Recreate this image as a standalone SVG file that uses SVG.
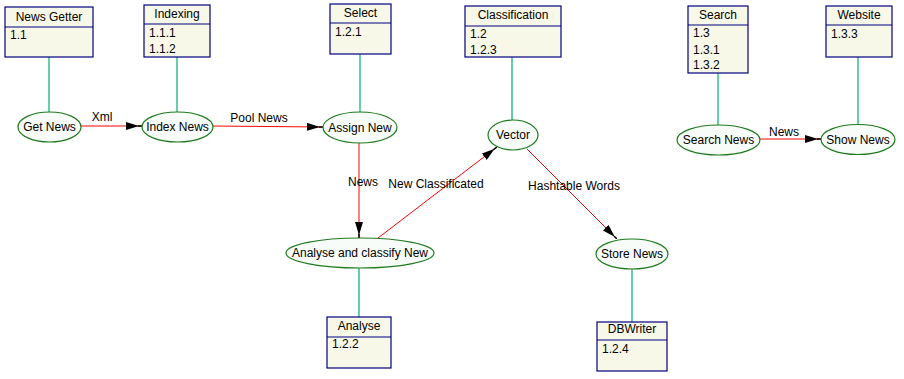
<svg xmlns="http://www.w3.org/2000/svg" width="904" height="379" viewBox="0 0 904 379">
<defs>
<style>
.box{fill:#f8f8e8;stroke:#000080;stroke-width:1.2}
.div{stroke:#000080;stroke-width:1.2}
.ell{fill:#f8fcf8;stroke:#1e7a1e;stroke-width:1.2}
.lnk{stroke:#00b070;stroke-width:1.2;fill:none}
.flow{stroke:#ff0000;stroke-width:1;fill:none}
text{font-family:"Liberation Sans",Arial,sans-serif;font-size:12px;fill:#000}
.c{text-anchor:middle}
</style>
<marker id="ah" viewBox="0 0 16 8" refX="16" refY="4" markerWidth="16" markerHeight="8" markerUnits="userSpaceOnUse" orient="auto">
<path d="M0,0 L13,4 L0,8 z" fill="#000"/>
<path d="M12,4 L16,4" stroke="#000" stroke-width="1.5"/>
</marker>
</defs>
<rect width="904" height="379" fill="#fff"/>
<g id="connectors">
<line class="lnk" x1="49" y1="57" x2="49" y2="112"/>
<line class="lnk" x1="177" y1="57" x2="177" y2="112"/>
<line class="lnk" x1="360" y1="54" x2="360" y2="112"/>
<line class="lnk" x1="512" y1="57" x2="512" y2="120"/>
<line class="lnk" x1="718" y1="73" x2="718" y2="125"/>
<line class="lnk" x1="858" y1="57" x2="858" y2="124"/>
<line class="lnk" x1="359" y1="268" x2="359" y2="317"/>
<line class="lnk" x1="632" y1="269" x2="632" y2="322"/>
<line class="flow" x1="81" y1="126" x2="142" y2="126" marker-end="url(#ah)"/>
<line class="flow" x1="213" y1="126" x2="323" y2="127" marker-end="url(#ah)"/>
<line class="flow" x1="359" y1="143" x2="359" y2="238" marker-end="url(#ah)"/>
<line class="flow" x1="378" y1="238" x2="497" y2="147" marker-end="url(#ah)"/>
<line class="flow" x1="527" y1="149" x2="617" y2="239" marker-end="url(#ah)"/>
<line class="flow" x1="760" y1="139" x2="821" y2="139" marker-end="url(#ah)"/>
<text class="c" x="102" y="121">Xml</text>
<text class="c" x="259" y="122">Pool News</text>
<text class="c" x="363" y="186">News</text>
<text class="c" x="436" y="188">New Classificated</text>
<text class="c" x="574" y="190">Hashtable Words</text>
<text class="c" x="784" y="136">News</text>
</g>
<g id="newsgetter"><rect class="box" x="5" y="7" width="88" height="50"/><line class="div" x1="5" y1="27" x2="93" y2="27"/><text class="c" x="49" y="21">News Getter</text><text x="10" y="39">1.1</text></g>
<g id="indexing"><rect class="box" x="144" y="5" width="66" height="52"/><line class="div" x1="144" y1="24" x2="210" y2="24"/><text class="c" x="177" y="18">Indexing</text><text x="149" y="37">1.1.1</text><text x="149" y="53">1.1.2</text></g>
<g id="select"><rect class="box" x="330" y="4" width="61" height="50"/><line class="div" x1="330" y1="23" x2="391" y2="23"/><text class="c" x="360.5" y="17">Select</text><text x="335" y="36">1.2.1</text></g>
<g id="classification"><rect class="box" x="465" y="6" width="96" height="51"/><line class="div" x1="465" y1="26" x2="561" y2="26"/><text class="c" x="513" y="19">Classification</text><text x="470" y="38">1.2</text><text x="470" y="54">1.2.3</text></g>
<g id="search"><rect class="box" x="688" y="6" width="60" height="67"/><line class="div" x1="688" y1="25" x2="748" y2="25"/><text class="c" x="718" y="19">Search</text><text x="693" y="37">1.3</text><text x="693" y="54">1.3.1</text><text x="693" y="69">1.3.2</text></g>
<g id="website"><rect class="box" x="826" y="6" width="66" height="51"/><line class="div" x1="826" y1="25" x2="892" y2="25"/><text class="c" x="859" y="19">Website</text><text x="831" y="38">1.3.3</text></g>
<g id="analyse"><rect class="box" x="327" y="317" width="64" height="51"/><line class="div" x1="327" y1="337" x2="391" y2="337"/><text class="c" x="359" y="330">Analyse</text><text x="332" y="348">1.2.2</text></g>
<g id="dbwriter"><rect class="box" x="597" y="322" width="70" height="49"/><line class="div" x1="597" y1="340" x2="667" y2="340"/><text class="c" x="632" y="333">DBWriter</text><text x="602" y="353">1.2.4</text></g>
<g id="getnews"><ellipse class="ell" cx="49.5" cy="127" rx="31.5" ry="15"/><text class="c" x="49.5" y="131">Get News</text></g>
<g id="indexnews"><ellipse class="ell" cx="177.5" cy="127" rx="35.5" ry="15"/><text class="c" x="177.5" y="131">Index News</text></g>
<g id="assignnew"><ellipse class="ell" cx="360" cy="127.5" rx="37" ry="15.5"/><text class="c" x="360" y="132">Assign New</text></g>
<g id="vector"><ellipse class="ell" cx="513" cy="135" rx="25" ry="15"/><text class="c" x="513" y="139">Vector</text></g>
<g id="analyseclassify"><ellipse class="ell" cx="360" cy="253" rx="74" ry="15"/><text class="c" x="360" y="257">Analyse and classify New</text></g>
<g id="storenews"><ellipse class="ell" cx="632" cy="254" rx="36" ry="15"/><text class="c" x="632" y="258">Store News</text></g>
<g id="searchnews"><ellipse class="ell" cx="718.5" cy="140" rx="41.5" ry="15"/><text class="c" x="718.5" y="144">Search News</text></g>
<g id="shownews"><ellipse class="ell" cx="858" cy="139.5" rx="37" ry="15"/><text class="c" x="858" y="144">Show News</text></g>
</svg>
